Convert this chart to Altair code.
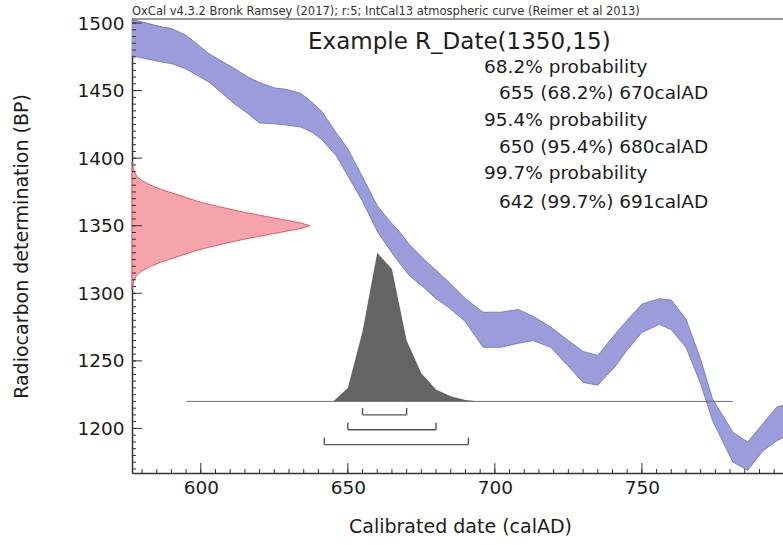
import altair as alt
import pandas as pd

# ---- data ----
band_year = [576, 587, 590, 595, 603, 611, 616, 620, 625, 629, 634, 638, 641, 646, 650, 655, 660, 664, 667,
             671, 676, 680, 684, 690, 696, 702, 708, 713, 719, 725, 730, 735, 741, 745, 750, 756, 760, 765,
             770, 774, 781, 786, 791, 796, 800]
band_hi = [1503, 1497, 1496, 1491, 1477, 1467, 1460, 1456, 1452, 1451, 1448, 1441, 1435, 1419, 1407, 1386, 1365,
           1354, 1347, 1336, 1325, 1317, 1309, 1296, 1286, 1286, 1288, 1283, 1275, 1265, 1257, 1254, 1270, 1280,
           1292, 1296, 1295, 1281, 1251, 1222, 1197, 1190, 1203, 1216, 1218]
band_lo = [1476, 1471, 1470, 1466, 1456, 1441, 1433, 1426, 1425.5, 1424.5, 1423, 1419, 1414, 1402, 1387, 1368,
           1346, 1333, 1324, 1313, 1304, 1296, 1290, 1279, 1260, 1260, 1263, 1265, 1260, 1246, 1234, 1232, 1246,
           1258, 1271, 1277, 1273, 1260, 1233, 1206, 1175, 1169, 1183, 1191, 1195]

cal_year = [645, 650, 655, 660, 665, 670, 675, 680, 685, 690, 695]
cal_prob = [0, 0.09, 0.47, 1.0, 0.89, 0.41, 0.19, 0.08, 0.035, 0.01, 0]
cal_base = 1220
cal_line_from = 595
cal_line_to = 781

rd_bp = [1303, 1306, 1310, 1314, 1317, 1320, 1323, 1326, 1329, 1332, 1335, 1338, 1340, 1342, 1344, 1346, 1348,
         1350, 1352, 1354, 1356, 1358, 1360, 1362, 1365, 1368, 1371, 1374, 1377, 1380, 1383, 1386, 1390, 1394, 1397]
rd_w = [0, 0.003, 0.012, 0.03, 0.06, 0.105, 0.16, 0.23, 0.30, 0.37, 0.46, 0.56, 0.63, 0.71, 0.79, 0.87, 0.95,
        1.0, 0.95, 0.87, 0.79, 0.71, 0.63, 0.56, 0.46, 0.37, 0.30, 0.23, 0.16, 0.105, 0.06, 0.03, 0.012, 0.003, 0]

range_from = [655, 650, 642]
range_to = [670, 680, 691]
range_pct = ["68.2%", "95.4%", "99.7%"]

x_labels = [600, 650, 700, 750]
y_labels = [1200, 1250, 1300, 1350, 1400, 1450, 1500]
x_minor = list(range(580, 800, 5))
y_minor = list(range(1170, 1505, 5))

header = "OxCal v4.3.2 Bronk Ramsey (2017); r:5; IntCal13 atmospheric curve (Reimer et al 2013)"
sample_title = "Example R_Date(1350,15)"

# ---- layout ----
XMIN, XMAX = 576.6, 798.0
YMIN, YMAX = 1167, 1503
W, H = 651, 454
FONT = "DejaVu Sans"
INK = "#1c1c1c"
AXC = "#333333"

xs = alt.Scale(domain=[XMIN, XMAX], nice=False, zero=False)
ys = alt.Scale(domain=[YMIN, YMAX], nice=False, zero=False)

main_x_axis = alt.Axis(orient="bottom", values=x_labels, format="d", ticks=False, tickSize=0, domain=True,
                       domainColor=AXC, domainWidth=1.5, grid=False, labelFont=FONT, labelFontSize=18.5,
                       labelColor=INK, labelPadding=5, labelOverlap=False, labelFlush=False,
                       title="Calibrated date (calAD)", titleFont=FONT, titleFontSize=19, titleFontWeight="normal",
                       titleColor=INK, titleX=328, titleY=53, titleBaseline="middle")
main_y_axis = alt.Axis(orient="left", values=y_labels, format="d", ticks=False, tickSize=0, domain=True,
                       domainColor=AXC, domainWidth=1.5, grid=False, labelFont=FONT, labelFontSize=18.5,
                       labelColor=INK, labelPadding=8, labelOverlap=False, labelFlush=False,
                       title="Radiocarbon determination (BP)", titleFont=FONT, titleFontSize=19,
                       titleFontWeight="normal", titleColor=INK, titleX=-111, titleY=227, titleAngle=270,
                       titleBaseline="middle")

band_df = pd.DataFrame({"year": band_year, "hi": band_hi, "lo": band_lo})
band = alt.Chart(band_df).mark_area(color="#9a9dd9", stroke="#6b6ebd", strokeWidth=0.8, clip=True).encode(
    x=alt.X("year:Q", scale=xs, axis=main_x_axis),
    y=alt.Y("hi:Q", scale=ys, axis=main_y_axis),
    y2="lo:Q",
)

rd_df = pd.DataFrame({"bp": rd_bp, "w": rd_w})
red = alt.Chart(rd_df).transform_calculate(
    xv=f"{XMIN} + datum.w * 60.5", x0=f"{XMIN}"
).mark_area(orient="horizontal", color="#f5a4ab", stroke="#e15b68", strokeWidth=1).encode(
    y=alt.Y("bp:Q", scale=ys),
    x=alt.X("xv:Q", scale=xs),
    x2="x0:Q",
)

cal_df = pd.DataFrame({"year": cal_year, "p": cal_prob})
cal = alt.Chart(cal_df).transform_calculate(
    top=f"{cal_base} + datum.p * 110", base=f"{cal_base}"
).mark_area(color="#646464").encode(
    x=alt.X("year:Q", scale=xs),
    y=alt.Y("top:Q", scale=ys),
    y2="base:Q",
)

line_df = pd.DataFrame({"a": [cal_line_from], "b": [cal_line_to], "y": [cal_base]})
base_line = alt.Chart(line_df).mark_rule(color="#707070", strokeWidth=1).encode(
    x=alt.X("a:Q", scale=xs), x2="b:Q", y=alt.Y("y:Q", scale=ys)
)

rng_df = pd.DataFrame({"lo": range_from, "hi": range_to, "pct": range_pct, "i": [0, 1, 2]})
rng_base = alt.Chart(rng_df).transform_calculate(
    lev=f"{cal_base} - 10 - datum.i * 11", lev2=f"{cal_base} - 10 - datum.i * 11 + 5.2"
)
rng_h = rng_base.mark_rule(color="#555555", strokeWidth=1.4).encode(
    x=alt.X("lo:Q", scale=xs), x2="hi:Q", y=alt.Y("lev:Q", scale=ys)
)
rng_l = rng_base.mark_rule(color="#555555", strokeWidth=1.4).encode(
    x=alt.X("lo:Q", scale=xs), y=alt.Y("lev:Q", scale=ys), y2="lev2:Q"
)
rng_r = rng_base.mark_rule(color="#555555", strokeWidth=1.4).encode(
    x=alt.X("hi:Q", scale=xs), y=alt.Y("lev:Q", scale=ys), y2="lev2:Q"
)


# inward axis ticks (minor every 5, major every 50)
def xticks(vals, length):
    return alt.Chart(pd.DataFrame({"v": vals})).mark_rule(color=AXC, strokeWidth=1).encode(
        x=alt.X("v:Q", scale=xs), y=alt.value(H), y2=alt.value(H - length))


def yticks(vals, length):
    return alt.Chart(pd.DataFrame({"v": vals})).mark_rule(color=AXC, strokeWidth=1).encode(
        y=alt.Y("v:Q", scale=ys), x=alt.value(0), x2=alt.value(length))


tick_layers = [xticks(x_minor, 4), xticks(x_labels, 10), yticks(y_minor, 4), yticks(y_labels, 10)]
top_border = alt.Chart(pd.DataFrame({"k": [0]})).mark_rule(color=AXC, strokeWidth=1.2).encode(
    x=alt.value(0), x2=alt.value(W), y=alt.value(0))


def label(text, px, py, size, color=INK):
    return alt.Chart(pd.DataFrame({"t": [text]})).mark_text(
        align="left", baseline="middle", font=FONT, fontSize=size, color=color
    ).encode(x=alt.value(px), y=alt.value(py), text="t:N")


texts = [label(header, 0, -7, 11.5, "#333333"), label(sample_title, 176, 23, 23)]
line_y = [47.7, 73.7, 101, 127.7, 154.3, 182.7]
for k in range(3):
    texts.append(label(f"{range_pct[k]} probability", 352, line_y[2 * k], 18.5))
    texts.append(label(f"{range_from[k]} ({range_pct[k]}) {range_to[k]}calAD", 367, line_y[2 * k + 1], 18.5))

chart = alt.layer(
    band, red, cal, base_line, rng_h, rng_l, rng_r, *tick_layers, top_border, *texts
).properties(
    width=W, height=H, autosize="none",
    padding={"left": 132, "top": 19, "right": 0, "bottom": 72},
).configure_view(stroke=None)

chart.save("out.html", embed_options={"renderer": "svg", "actions": False})
